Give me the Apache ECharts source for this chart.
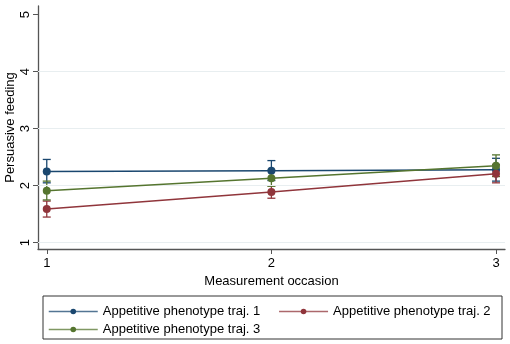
<!DOCTYPE html>
<html>
<head>
<meta charset="utf-8">
<script src="https://cdn.jsdelivr.net/npm/echarts@6/dist/echarts.min.js"></script>
<style>html,body{margin:0;padding:0;background:#fff}#c{width:510px;height:344px}</style>
</head>
<body>
<div id="c"></div>
<script>
const occasions = [1, 2, 3];
const yTicks = [1, 2, 3, 4, 5];
const seriesNames = ['Appetitive phenotype traj. 1', 'Appetitive phenotype traj. 2', 'Appetitive phenotype traj. 3'];
const traj1 = [2.25, 2.26, 2.28];
const traj1Low = [2.05, 2.09, 2.08];
const traj1High = [2.46, 2.44, 2.48];
const traj2 = [1.59, 1.89, 2.21];
const traj2Low = [1.45, 1.78, 2.05];
const traj2High = [1.73, 2.00, 2.37];
const traj3 = [1.91, 2.13, 2.35];
const traj3Low = [1.75, 1.99, 2.16];
const traj3High = [2.08, 2.27, 2.54];
const colors = ['#1a476f', '#90353b', '#55752f'];

const chart = echarts.init(document.getElementById('c'));
const font = 'Liberation Sans, Arial, sans-serif';

function lineSeries(i, vals) {
  return {
    name: seriesNames[i], type: 'line', data: occasions.map((x, k) => [x, vals[k]]),
    symbol: 'circle', symbolSize: 8, z: 5,
    lineStyle: { color: colors[i], width: 1.5 },
    itemStyle: { color: colors[i] },
    emphasis: { disabled: true }
  };
}
function errSeries(i, lo, hi) {
  return {
    type: 'custom', z: 4, silent: true,
    data: occasions.map((x, k) => [x, lo[k], hi[k]]),
    renderItem: function (params, api) {
      const a = api.coord([api.value(0), api.value(1)]);
      const b = api.coord([api.value(0), api.value(2)]);
      const w = 4;
      const st = { stroke: colors[i], lineWidth: 1.3 };
      return { type: 'group', children: [
        { type: 'line', shape: { x1: a[0], y1: a[1], x2: b[0], y2: b[1] }, style: st },
        { type: 'line', shape: { x1: a[0] - w, y1: a[1], x2: a[0] + w, y2: a[1] }, style: st },
        { type: 'line', shape: { x1: b[0] - w, y1: b[1], x2: b[0] + w, y2: b[1] }, style: st }
      ]};
    }
  };
}

const gridSeries = {
  type: 'line', data: [], silent: true,
  markLine: {
    silent: true, symbol: 'none', label: { show: false },
    lineStyle: { color: '#e8eef0', width: 1, type: 'solid' },
    data: yTicks.slice(0, 4).map(v => ({ yAxis: v }))
  }
};

const legendCommon = {
  itemWidth: 49, itemHeight: 7, itemGap: 18, selectedMode: false,
  lineStyle: { opacity: 0.75, width: 1.5 },
  textStyle: { fontSize: 13, color: '#000', fontFamily: font }
};

chart.setOption({
  animation: false,
  backgroundColor: '#ffffff',
  textStyle: { fontFamily: font },
  grid: { left: 38, right: 5, top: 6, bottom: 95, containLabel: false, outerBoundsMode: 'none' },
  xAxis: {
    type: 'value', min: 0.961, max: 3.04,
    name: 'Measurement occasion', nameLocation: 'middle', nameGap: 26, nameMoveOverlap: false,
    nameTextStyle: { fontSize: 13, color: '#000', fontFamily: font },
    axisLine: { show: true, lineStyle: { color: '#555', width: 1.3 } },
    axisTick: { show: true, length: 5, lineStyle: { color: '#555' }, customValues: occasions },
    axisLabel: { customValues: occasions, fontSize: 13, color: '#000', margin: 8, fontFamily: font },
    splitLine: { show: false }
  },
  yAxis: {
    type: 'value', min: 0.89, max: 5.15,
    name: 'Persuasive feeding', nameLocation: 'middle', nameGap: 21, nameMoveOverlap: false,
    nameTextStyle: { fontSize: 13, color: '#000', fontFamily: font },
    axisLine: { show: true, lineStyle: { color: '#555', width: 1.3 } },
    axisTick: { show: true, length: 5, lineStyle: { color: '#555' }, customValues: yTicks },
    axisLabel: { customValues: yTicks, rotate: 90, fontSize: 13, color: '#000', margin: 6, fontFamily: font },
    splitLine: { show: false }
  },
  legend: [
    Object.assign({ left: 43, top: 300, data: [seriesNames[0], seriesNames[1]] }, legendCommon),
    Object.assign({ left: 43, top: 318, data: [seriesNames[2]] }, legendCommon)
  ],
  graphic: [{ type: 'rect', shape: { x: 43, y: 296, width: 459, height: 43 },
    style: { fill: 'none', stroke: '#333', lineWidth: 1 }, silent: true }],
  series: [
    gridSeries,
    errSeries(0, traj1Low, traj1High), errSeries(1, traj2Low, traj2High), errSeries(2, traj3Low, traj3High),
    lineSeries(0, traj1), lineSeries(1, traj2), lineSeries(2, traj3)
  ]
});
</script>
</body>
</html>
